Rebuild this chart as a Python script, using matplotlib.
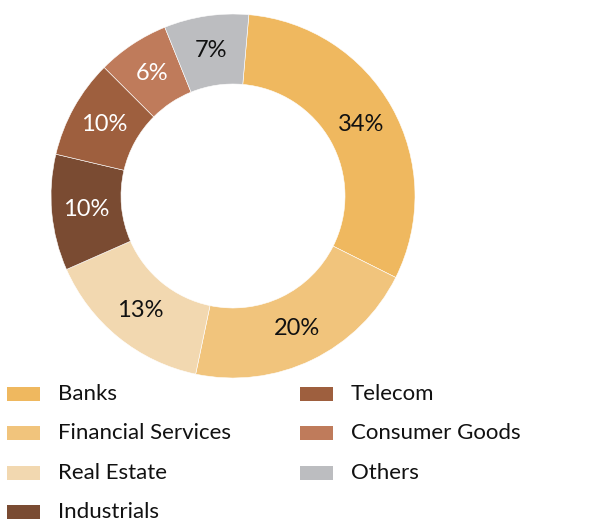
import matplotlib
matplotlib.use("Agg")
import matplotlib.pyplot as plt
from matplotlib.patches import Rectangle

# sector shares as drawn (wedge sizes) and the printed labels
sectors = ["Banks", "Financial Services", "Real Estate", "Industrials",
           "Telecom", "Consumer Goods", "Others"]
shares = [31.0, 20.9, 15.1, 10.3, 8.8, 6.4, 7.5]
pct_labels = ["34%", "20%", "13%", "10%", "10%", "6%", "7%"]
colors = ["#EFB85F", "#F1C47C", "#F2D8B0", "#7A4B32", "#9E5F3E", "#BF7B5B", "#BCBDC0"]
label_colors = ["#111111", "#111111", "#111111", "white", "white", "white", "#111111"]

W, H = 596, 522
plt.rcParams["font.family"] = ["Lato", "DejaVu Sans"]

fig = plt.figure(figsize=(W / 100, H / 100), dpi=100)
ax = fig.add_axes([0, 0, 1, 1])

cx, cy, R = 233, H - 196, 182
ring = 70
wedges, texts = ax.pie(
    shares, colors=colors, startangle=85, counterclock=False,
    center=(cx, cy), radius=R, frame=True,
    wedgeprops=dict(width=ring, edgecolor="white", linewidth=0.4),
    labels=pct_labels, labeldistance=(R - ring / 2) / R,
    textprops=dict(fontsize=17, ha="center", va="center"),
)
for t, c in zip(texts, label_colors):
    t.set_color(c)
    t.set_horizontalalignment("center")

# legend, two columns drawn by hand
col_x = [7, 300]
row_y = [394, 433, 473, 512]
for i, (name, c) in enumerate(zip(sectors, colors)):
    col, row = (0, i) if i < 4 else (1, i - 4)
    x0 = col_x[col]
    y0 = H - row_y[row]
    ax.add_patch(Rectangle((x0, y0 - 7), 33, 14, facecolor=c, edgecolor="none"))
    ax.text(x0 + 51, y0, name, fontsize=16,
            va="center", ha="left", color="#111111")

ax.set_xlim(0, W)
ax.set_ylim(0, H)
ax.set_aspect("equal")
ax.axis("off")
fig.savefig("out.png", dpi=100)
